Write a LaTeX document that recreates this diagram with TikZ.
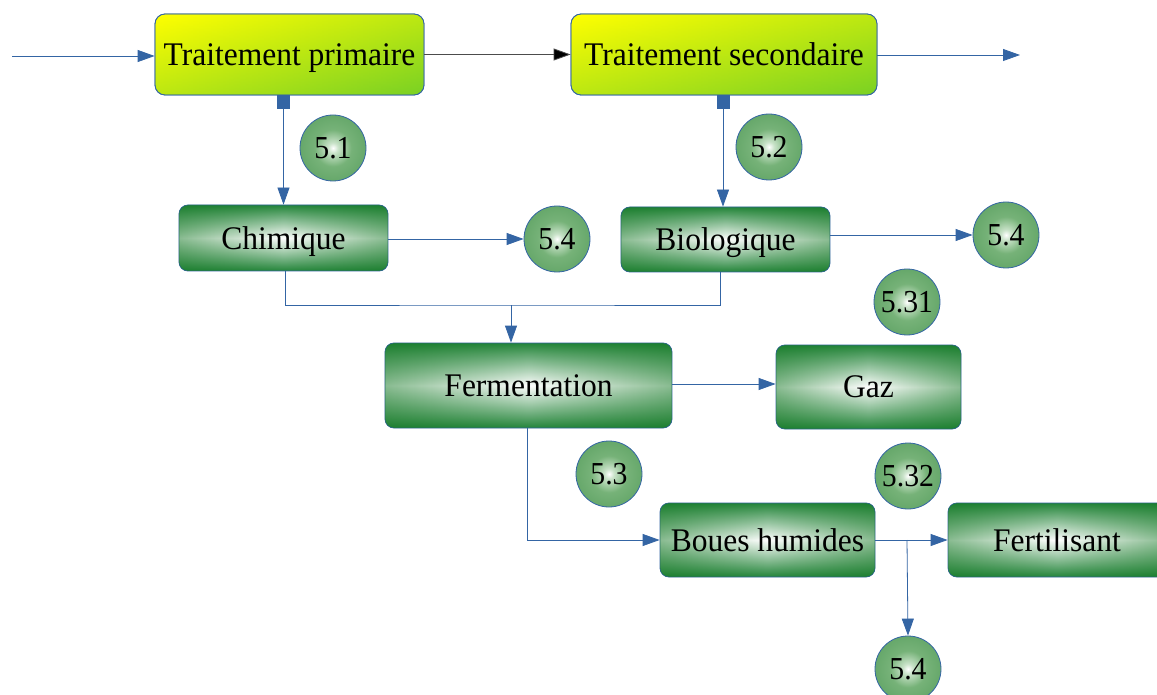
\documentclass[tikz,border=0pt]{standalone}
\usepackage{fontspec}
\setmainfont{Liberation Serif}
\usetikzlibrary{arrows.meta,fadings}
\definecolor{lnblue}{HTML}{3465A4}
\definecolor{dkgreen}{HTML}{137823}
\definecolor{mdgreen}{HTML}{24853A}
\definecolor{ylw}{HTML}{FFFF00}
\definecolor{lime}{HTML}{7AD124}
\definecolor{dotA}{HTML}{C8E2C8}
\definecolor{dotB}{HTML}{76B278}
\definecolor{dotC}{HTML}{4E9856}
\pgfdeclareradialshading{dot}{\pgfpoint{0bp}{0bp}}{%
  color(0bp)=(white); color(4bp)=(dotA); color(14bp)=(dotB);
  color(42bp)=(dotC); color(50bp)=(dotC)}
\tikzfading[name=sides, left color=transparent!0, right color=transparent!0,
  middle color=transparent!100]
% slightly condensed label text
\newcommand{\lbl}[1]{\scalebox{0.955}[1]{#1}}
\newcommand{\nmb}[1]{\scalebox{0.93}[1]{#1}}
\tikzset{
  % diagonal yellow-to-green fill: half horizontal plus half vertical gradient
  treat/.style={draw=lnblue, line width=0.8pt, rounded corners=10pt,
    left color=ylw, right color=lime,
    postaction={top color=ylw, bottom color=lime, fill opacity=0.5},
    postaction={draw=lnblue, line width=0.8pt},
    minimum width=#1, minimum height=81pt, inner sep=0pt, text depth=0pt,
    font=\fontsize{33pt}{38pt}\selectfont},
  gbox/.style={draw=lnblue, line width=0.8pt, rounded corners=9pt,
    top color=mdgreen, bottom color=mdgreen, middle color=white,
    postaction={fill=dkgreen, path fading=sides, fill opacity=0.5},
    inner sep=0pt, text depth=0pt, font=\fontsize{33pt}{38pt}\selectfont},
  num/.style={circle, draw=lnblue, line width=0.8pt, shading=dot,
    minimum size=66pt, inner sep=0pt, text depth=0pt,
    font=\fontsize{32pt}{38pt}\selectfont},
  flow/.style={draw=lnblue, line width=0.8pt,
    -{Triangle[length=17pt,width=12pt]}},
  link/.style={draw=lnblue, line width=0.8pt},
  tap/.style={draw=lnblue, line width=0.8pt,
    {Square[length=13pt,width=13pt]}-{Triangle[length=17pt,width=12pt]}},
}
\begin{document}
\begin{tikzpicture}[x=1pt,y=-1pt]
\clip (0,0) rectangle (1157,695);
\fill[white] (0,0) rectangle (1157,695);

% treatment stages
\node[treat=269pt] (tp) at (289.5,54.5) {\lbl{Traitement primaire}};
\node[treat=306pt] (ts) at (724,54.5) {\lbl{Traitement secondaire}};

% process boxes
\node[gbox, minimum width=209pt, minimum height=66pt] (chim) at (283.5,238) {\lbl{Chimique}};
\node[gbox, minimum width=209pt, minimum height=65pt] (bio) at (725.5,239.5) {\lbl{Biologique}};
\node[gbox, minimum width=287pt, minimum height=85pt] (ferm) at (528.5,385.5) {\lbl{Fermentation}};
\node[gbox, minimum width=185pt, minimum height=84pt] (gaz) at (868.5,387) {\lbl{Gaz}};
\node[gbox, minimum width=215pt, minimum height=74pt] (boues) at (767.5,540) {\lbl{Boues humides}};
\node[gbox, minimum width=218pt, minimum height=74pt] (fert) at (1057,540) {\lbl{Fertilisant}};

% section numbers
\node[num] (n51) at (333,148) {\nmb{5.1}};
\node[num] (n52) at (769,147) {\nmb{5.2}};
\node[num] (n54a) at (557,239) {\nmb{5.4}};
\node[num] (n54b) at (1006,235) {\nmb{5.4}};
\node[num] (n531) at (907,302) {\nmb{5.31}};
\node[num] (n53) at (609,474) {\nmb{5.3}};
\node[num] (n532) at (908,476) {\nmb{5.32}};
\node[num] (n54c) at (908,669) {\nmb{5.4}};

% connectors
\coordinate (in) at (12,56);
\coordinate (out) at (1020,55);
\coordinate (j) at (511,305);
\coordinate (k) at (907,540);

\draw[flow] (in) -- (tp.west |- in);
\draw[line width=0.8pt, black!70, -{Triangle[length=17pt,width=12pt,fill=black]}]
  (tp.east) -- (ts.west);
\draw[flow] (ts.east |- out) -- (out);

\draw[tap] (chim.north |- tp.south) -- (chim.north);
\draw[tap] ([xshift=-1pt]ts.south) -- ([xshift=-1pt]ts.south |- bio.north);

\draw[flow] (chim.east |- n54a) -- (n54a.west);
\draw[flow] (bio.east |- n54b) -- (n54b.west);

\draw[link] ([xshift=2pt]chim.south) |- (j) -| ([xshift=-5pt]bio.south);
\draw[flow] (j) -- (j |- ferm.north);

\draw[flow] (ferm.east |- 0,384) -- (gaz.west |- 0,384);
\draw[flow] ([xshift=-1.5pt]ferm.south) |- (boues.west);
\draw[flow] (boues.east) -- (fert.west);
\draw[flow] (k) -- (n54c.north);
\end{tikzpicture}
\end{document}
